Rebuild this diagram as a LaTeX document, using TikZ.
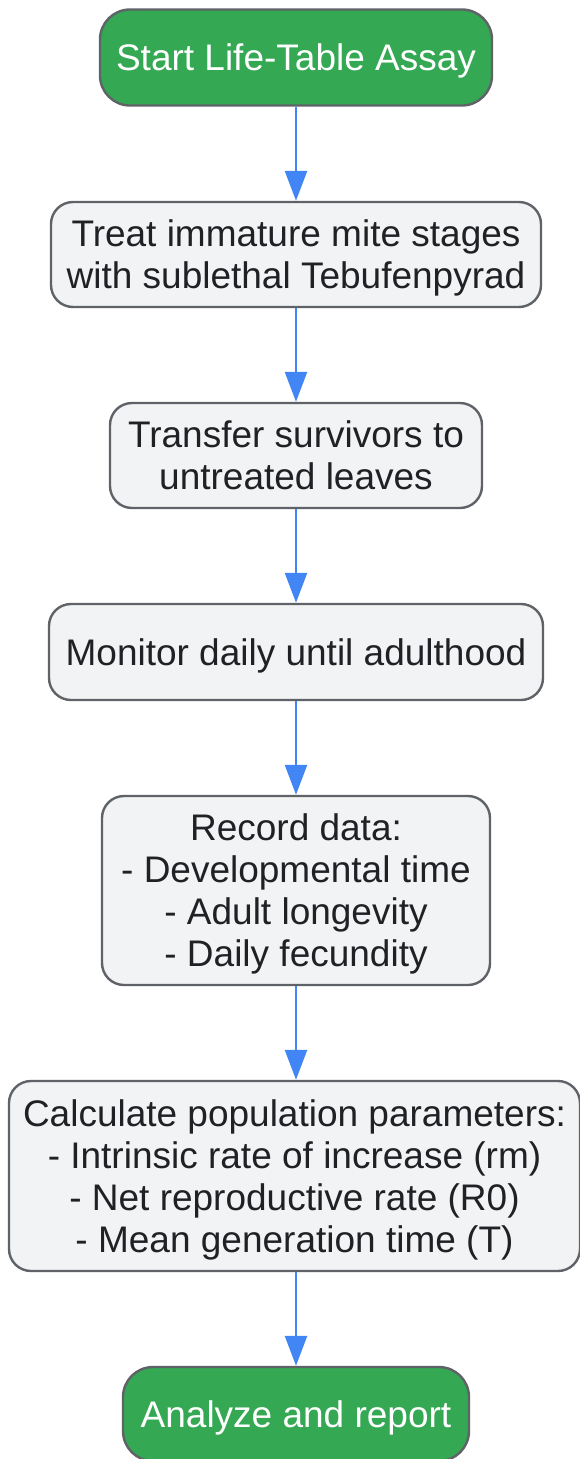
\documentclass[tikz,border=0pt]{standalone}
\usepackage{fontspec}
\setmainfont{Liberation Sans}
\usepackage{xcolor}
\usetikzlibrary{arrows.meta}

\definecolor{termgreen}{HTML}{34A853}
\definecolor{stepgray}{HTML}{F1F3F4}
\definecolor{edgegray}{HTML}{5F6368}
\definecolor{textdark}{HTML}{202124}
\definecolor{flowblue}{HTML}{4285F4}

\tikzset{
    terminal/.style={draw=edgegray, line width=2.4pt, fill=termgreen, text=white,
        rounded corners=30pt, align=center, inner sep=2pt, text depth=-1.5pt},
    process/.style={draw=edgegray, line width=2.4pt, fill=stepgray, text=textdark,
        rounded corners=22pt, align=center, inner sep=2pt, text depth=-1.5pt},
    flow/.style={draw=flowblue, line width=2.6pt,
        -{Triangle[length=30pt,width=22pt]}}
}

\begin{document}
\begin{tikzpicture}[x=1pt,y=1pt,font=\fontsize{37}{42}\selectfont]
    \useasboundingbox (0,0) rectangle (579,-1459);

    % Start and end of the assay
    \node[terminal, minimum width=392pt, minimum height=96pt] (start) at (296,-57.5) {Start Life-Table Assay};

    % Treatment and rearing steps
    \node[process, minimum width=490pt, minimum height=105pt] (treat) at (296,-254.5)
        {Treat immature mite stages\\with sublethal Tebufenpyrad};
    \node[process, minimum width=372pt, minimum height=105pt] (transfer) at (296,-455.5)
        {Transfer survivors to\\untreated leaves};
    \node[process, minimum width=494pt, minimum height=96pt] (monitor) at (296,-652)
        {Monitor daily until adulthood};

    % Data and parameters
    \node[process, minimum width=388pt, minimum height=189pt] (record) at (296,-890.5)
        {Record data:\\- Developmental time\\- Adult longevity\\- Daily fecundity};
    \node[process, minimum width=571pt, minimum height=190pt] (calc) at (294.5,-1176)
        {Calculate population parameters:\\- Intrinsic rate of increase (rm)\\- Net reproductive rate (R0)\\- Mean generation time (T)};

    \node[terminal, minimum width=346pt, minimum height=94pt] (report) at (296,-1414) {Analyze and report};

    % Connectors
    \draw[flow] (start) -- (treat);
    \draw[flow] (treat) -- (transfer);
    \draw[flow] (transfer) -- (monitor);
    \draw[flow] (monitor) -- (record);
    \draw[flow] (record) -- (record |- calc.north);
    \draw[flow] (record |- calc.south) -- (report);
\end{tikzpicture}
\end{document}
